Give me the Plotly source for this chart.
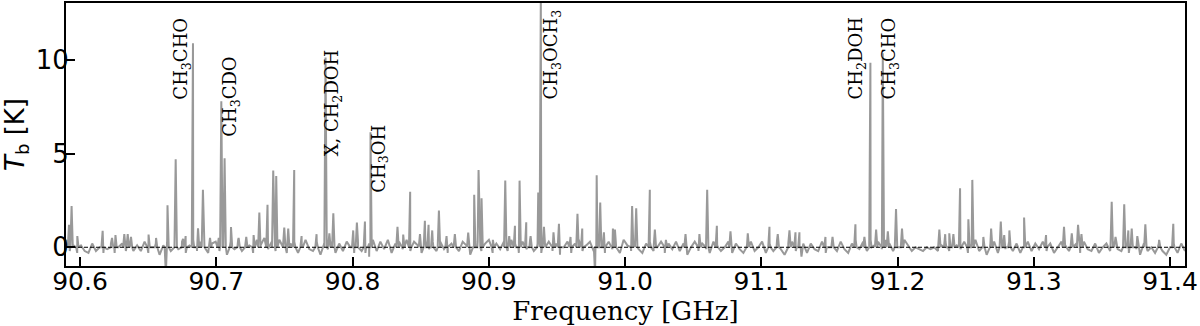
import numpy as np
import plotly.graph_objects as go

# ---------------- data ----------------
freq_range_ghz = [90.5897, 91.411]
tb_range_k = [-1.0, 13.05]

x_tick_vals = [90.6, 90.7, 90.8, 90.9, 91.0, 91.1, 91.2, 91.3, 91.4]
x_tick_text = ["90.6", "90.7", "90.8", "90.9", "91.0", "91.1", "91.2", "91.3", "91.4"]
y_tick_vals = [0, 5, 10]
y_tick_text = ["0", "5", "10"]

# baseline (noise) brightness temperature, channels evenly spread over the band [K]
baseline_tb_k = [
    0.4, -0.2, 0.1, -0.3, 0.1, -0.2, -0.3, 0.2, -0.2, 0.0, -0.3, -0.1, 0.2, -0.3, 0.0, 0.2, -0.2, 0.3, -0.2, 0.1,
    -0.2, 0.3, -0.3, 0.0, 0.2, -0.4, 0.1, 0.3, -0.2, 0.4, -0.1, 0.3, -0.3, 0.1, 0.4, -0.2, 0.3, 0.0, -0.3, 0.2,
    0.3, -0.2, 0.2, -0.4, 0.3, -0.1, 0.4, -0.2, 0.3, 0.1, -0.3, 0.4, 0.1, 0.5, -0.1, 0.3, -0.2, 0.4, 0.1, -0.3,
    0.2, 0.3, -0.3, 0.1, 0.4, -0.1, -0.2, 0.3, -0.4, 0.2, -0.1, 0.3, -0.3, 0.2, -0.2, 0.3, 0.0, -0.3, 0.4, -0.2,
    -0.3, 0.2, 0.4, -0.2, 0.3, -0.1, 0.4, -0.3, 0.2, 0.3, -0.1, 0.4, -0.2, 0.3, 0.1, -0.3, 0.4, -0.1, 0.3, -0.2,
    0.3, -0.1, -0.3, 0.2, 0.4, -0.2, 0.3, 0.1, -0.4, 0.0, 0.3, -0.2, 0.2, 0.4, -0.3, 0.2, -0.1, 0.3, -0.2, 0.4,
    0.2, -0.3, 0.3, -0.1, 0.4, -0.2, 0.2, -0.3, 0.0, 0.3, -0.2, 0.2, -0.4, 0.0, 0.3, -0.3, 0.2, 0.4, -0.2, 0.1,
    0.3, -0.2, 0.2, 0.4, -0.3, 0.3, -0.1, 0.2, -0.3, 0.4, 0.1, -0.2, 0.3, -0.1, -0.3, 0.2, 0.3, -0.2, 0.0, 0.3,
    -0.3, 0.2, -0.1, 0.3, -0.2, 0.2, -0.4, 0.0, 0.3, -0.2, 0.2, -0.1, -0.3, 0.3, 0.1, -0.2, 0.0, 0.3, -0.3, 0.2,
    -0.1, -0.3, 0.2, 0.3, -0.2, 0.0, 0.3, -0.3, 0.2, -0.2, 0.4, -0.1, -0.4, 0.2, 0.3, -0.2, 0.0, 0.2, -0.3, 0.2,
    -0.1, -0.2, 0.3, -0.3, 0.0, 0.2, -0.2, 0.3, -0.1, -0.3, 0.2, 0.4, -0.1, 0.3, -0.2, 0.4, 0.1, 0.3, -0.1, 0.4,
    0.2, -0.2, 0.3, 0.0, 0.4, 0.1, -0.2, 0.0, -0.1, -0.2, 0.0, -0.1, 0.0, -0.2, 0.1, 0.3, -0.2, 0.3, 0.1, -0.1,
    0.3, -0.3, 0.2, 0.4, -0.2, 0.0, -0.4, 0.2, 0.3, -0.3, 0.2, -0.1, 0.3, -0.2, 0.2, -0.3, 0.0, 0.3, -0.2, 0.2,
    -0.1, 0.3, -0.2, 0.2, -0.3, 0.0, 0.3, 0.1, -0.2, 0.0, 0.2, -0.3, 0.3, -0.1, -0.2, 0.2, -0.3, 0.0, 0.2, -0.2,
    0.3, -0.1, -0.2, 0.3, -0.3, 0.2, -0.1, -0.4, 0.2, -0.2, 0.0, -0.3, 0.2, -0.2, -0.4, 0.0, 0.2, -0.3, 0.2, -0.2,
]

# emission (and absorption) line frequencies [GHz] and peak brightness [K]
peak_freq_ghz = [
    90.5919, 90.5938, 90.5980, 90.6166, 90.6235, 90.6260, 90.6325, 90.6350, 90.6374, 90.6503,
    90.6558, 90.6630, 90.6642, 90.6702, 90.6756, 90.6775, 90.6829, 90.6866, 90.6902, 90.6954,
    90.7018, 90.7037, 90.7061, 90.7108, 90.7164, 90.7220, 90.7274, 90.7316, 90.7376, 90.7418,
    90.7440, 90.7499, 90.7528, 90.7572, 90.7626, 90.7736, 90.7802, 90.7830, 90.7859, 90.8005,
    90.8032, 90.8091, 90.8122, 90.8132, 90.8330, 90.8372, 90.8423, 90.8495, 90.8531, 90.8558,
    90.8585, 90.8634, 90.8690, 90.8751, 90.8849, 90.8893, 90.8925, 90.8947, 90.9030, 90.9121,
    90.9150, 90.9192, 90.9226, 90.9275, 90.9307, 90.9363, 90.9382, 90.9405, 90.9475, 90.9515,
    90.9600, 90.9651, 90.9686, 90.9780, 90.9792, 90.9818, 90.9845, 90.9911, 90.9926, 91.0052,
    91.0082, 91.0182, 91.0219, 91.0300, 91.0444, 91.0546, 91.0603, 91.0674, 91.0774, 91.0901,
    91.1060, 91.1121, 91.1207, 91.1251, 91.1280, 91.1295, 91.1471, 91.1523, 91.1691, 91.1757,
    91.1801, 91.1843, 91.1892, 91.1929, 91.1989, 91.2033, 91.2307, 91.2350, 91.2380, 91.2410,
    91.2459, 91.2520, 91.2549, 91.2630, 91.2687, 91.2758, 91.2783, 91.2821, 91.2929, 91.3090,
    91.3222, 91.3279, 91.3325, 91.3350, 91.3572, 91.3600, 91.3664, 91.3694, 91.3719, 91.3760,
    91.3819, 91.3920, 91.4024,
]
peak_tb_k = [
    1.2, 2.2, 0.6, 0.88, 0.5, 0.65, 0.7, 0.7, 0.55, 0.68,
    0.5, -1.4, 2.25, 4.7, 0.45, 0.6, 10.9, 1.02, 3.07, 0.5,
    0.5, 7.8, 4.75, 1.08, 0.5, 0.55, 0.65, 1.86, 2.27, 4.1,
    3.81, 1.05, 1.0, 4.13, 0.6, 0.7, 10.14, 0.75, 1.82, 0.9,
    1.32, 1.38, -0.5, 6.14, 1.1, 0.68, 2.96, 0.7, 1.41, 1.2,
    0.9, 1.96, 0.6, 0.7, 0.78, 2.8, 4.13, 2.62, 0.4, 3.56,
    0.6, 1.15, 3.56, 1.34, 0.6, 2.93, 13.5, 1.1, 0.8, 1.25,
    0.55, 1.79, 1.0, -1.4, 3.85, 2.39, 0.8, 1.0, 0.95, 2.21,
    2.09, 3.07, 0.95, 0.4, 0.7, 0.7, 3.07, 1.15, 0.85, 0.75,
    1.1, 0.7, 0.9, 0.8, 0.8, -0.5, 0.55, 0.55, 1.23, 0.55,
    9.86, 0.95, 10.36, 0.85, 2.05, 1.0, 0.95, 0.7, 0.75, 0.7,
    3.15, 1.5, 3.6, 0.55, 1.0, 1.38, 0.65, 0.9, 1.59, 0.65,
    1.1, 0.75, 1.2, 0.7, 2.43, 0.55, 2.3, 0.9, 1.0, 0.6,
    1.23, 0.4, 1.25,
]
line_halfwidth_ghz = 0.0009

# line identifications
label_text = [
    "CH<sub>3</sub>CHO", "CH<sub>3</sub>CDO", "X, CH<sub>2</sub>DOH", "CH<sub>3</sub>OH",
    "CH<sub>3</sub>OCH<sub>3</sub>", "CH<sub>2</sub>DOH", "CH<sub>3</sub>CHO",
]
label_freq_ghz = [90.6751, 90.7103, 90.7859, 90.8203, 90.9466, 91.1704, 91.1946]
label_tb_k = [7.8, 5.81, 4.74, 2.82, 7.8, 7.8, 7.8]

# ---------------- build spectrum ----------------
base_freq = np.linspace(freq_range_ghz[0], freq_range_ghz[1], len(baseline_tb_k))
xs = list(base_freq)
ys = list(baseline_tb_k)
for f, h in zip(peak_freq_ghz, peak_tb_k):
    xs += [f - line_halfwidth_ghz, f, f + line_halfwidth_ghz]
    ys += [0.0, h, 0.0]
order = np.argsort(np.array(xs), kind="stable")
spec_x = np.array(xs)[order]
spec_y = np.array(ys)[order]

fig = go.Figure()
fig.add_trace(go.Scatter(
    x=spec_x, y=spec_y, mode="lines",
    line=dict(color="#999999", width=2),
    showlegend=False, hoverinfo="skip",
))

fig.add_shape(type="line", xref="paper", yref="y", x0=0, x1=1, y0=0, y1=0,
              line=dict(color="black", width=1, dash="4px,2px"), layer="above")

for txt, fx, ty in zip(label_text, label_freq_ghz, label_tb_k):
    fig.add_annotation(
        x=fx, y=ty, xref="x", yref="y", text=txt, showarrow=False,
        textangle=-90, xanchor="center", yanchor="bottom",
        font=dict(family="DejaVu Serif", size=18, color="black"),
    )

axis_common = dict(
    showgrid=False, zeroline=False, showline=True, linecolor="black", linewidth=2,
    mirror=True, ticks="inside", ticklen=9, tickwidth=1.5, tickcolor="black",
    automargin=False,
)

fig.update_layout(
    width=1200, height=326,
    margin=dict(l=66, r=15, t=3, b=60),
    paper_bgcolor="white", plot_bgcolor="white",
    xaxis=dict(range=freq_range_ghz, tickvals=x_tick_vals, ticktext=x_tick_text,
               ticklabelstandoff=-8,
               tickfont=dict(family="DejaVu Sans", size=25, color="black"),
               title=dict(text="Frequency [GHz]", standoff=3,
                          font=dict(family="DejaVu Serif", size=26, color="black")),
               **axis_common),
    yaxis=dict(range=tb_range_k, tickvals=y_tick_vals, ticktext=y_tick_text,
               ticklabelstandoff=-10,
               tickfont=dict(family="DejaVu Sans", size=26, color="black"),
               title=dict(text="<i>T</i><sub>b</sub> [K]", standoff=8,
                          font=dict(family="DejaVu Sans", size=26, color="black")),
               **axis_common),
)

fig.write_html("out.html", config={"displayModeBar": False},
               post_script="document.body.style.margin='0';document.body.style.overflow='hidden';")
